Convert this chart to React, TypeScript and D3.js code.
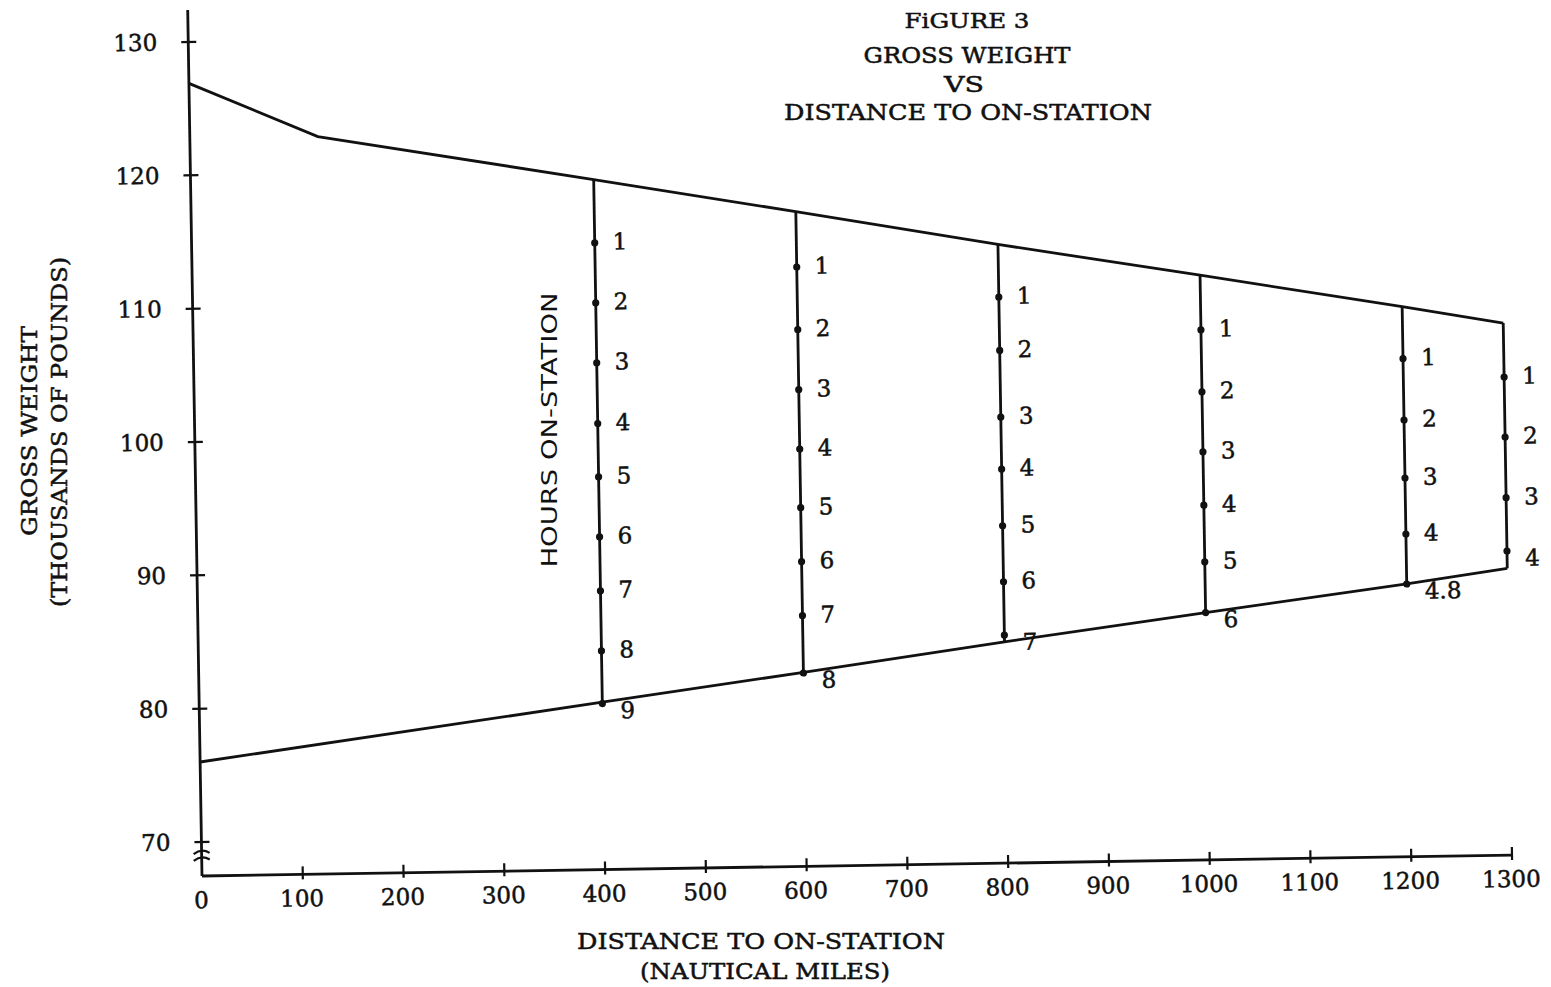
import React from 'react';
import * as d3 from 'd3';

// axis ticks
const distanceTicks = [0, 100, 200, 300, 400, 500, 600, 700, 800, 900, 1000, 1100, 1200, 1300];
const weightTicks = [70, 80, 90, 100, 110, 120, 130];

// upper envelope (take-off weight less fuel to reach station)
const upperDistance = [0, 127, 400, 600, 800, 1000, 1200, 1300];
const upperWeight = [126.9, 122.75, 119.2, 116.55, 113.85, 111.3, 108.7, 107.35];

// lower envelope (weight at end of station time)
const lowerDistance = [0, 400, 600, 800, 1000, 1200, 1300];
const lowerWeight = [76, 80, 82, 84.05, 86, 87.9, 88.95];

// hours on-station scales
const stationDistance = [400, 600, 800, 1000, 1200, 1300];
const hourLabels = [
  ['1', '2', '3', '4', '5', '6', '7', '8', '9'],
  ['1', '2', '3', '4', '5', '6', '7', '8'],
  ['1', '2', '3', '4', '5', '6', '7'],
  ['1', '2', '3', '4', '5', '6'],
  ['1', '2', '3', '4', '4.8'],
  ['1', '2', '3', '4'],
];
const hourWeights = [
  [114.45, 109.95, 105.45, 100.9, 96.9, 92.4, 88.35, 83.85, 79.9],
  [112.4, 107.7, 103.2, 98.75, 94.35, 90.3, 86.25, 81.95],
  [109.9, 105.9, 100.9, 97.0, 92.75, 88.55, 84.55],
  [107.2, 102.55, 98.05, 94.05, 89.8, 86.0],
  [104.8, 100.2, 95.85, 91.65, 87.9],
  [103.3, 98.8, 94.25, 90.25],
];

const serif = '"DejaVu Serif", serif';
const ink = '#111';

export default function App() {
  const x = d3.scaleLinear().domain([0, 1300]).range([0, 1310]);
  const y = d3.scaleLinear().domain([70, 130]).range([-34, -834]);

  const envelope = d3
    .line<[number, number]>()
    .x((d) => x(d[0]))
    .y((d) => y(d[1]));
  const upper = envelope(upperDistance.map((d, i) => [d, upperWeight[i]]));
  const lower = envelope(lowerDistance.map((d, i) => [d, lowerWeight[i]]));

  const topAt = (d: number) => upperWeight[upperDistance.indexOf(d)];
  const bottomAt = (d: number) => lowerWeight[lowerDistance.indexOf(d)];

  const textInk = { fill: ink, stroke: ink, strokeWidth: 0.5 };

  return (
    <svg
      width={1551}
      height={987}
      style={{ position: 'absolute', left: 0, top: 0, background: '#fff' }}
    >
      {/* titles */}
      <g fontFamily={serif} textAnchor="middle" {...textInk}>
        <text x={967} y={28} fontSize={20} textLength={125} lengthAdjust="spacingAndGlyphs">
          FiGURE 3
        </text>
        <text x={967} y={63} fontSize={22} textLength={207} lengthAdjust="spacingAndGlyphs">
          GROSS WEIGHT
        </text>
        <text x={964} y={92} fontSize={22} textLength={40} lengthAdjust="spacingAndGlyphs">
          VS
        </text>
        <text x={968} y={120} fontSize={22} textLength={368} lengthAdjust="spacingAndGlyphs">
          DISTANCE TO ON-STATION
        </text>

        <text x={761} y={949} fontSize={22} textLength={368} lengthAdjust="spacingAndGlyphs">
          DISTANCE TO ON-STATION
        </text>
        <text x={765} y={979} fontSize={22} textLength={250} lengthAdjust="spacingAndGlyphs">
          (NAUTICAL MILES)
        </text>

        <text
          transform="translate(37,431) rotate(-90)"
          fontSize={22}
          textLength={210}
          lengthAdjust="spacingAndGlyphs"
        >
          GROSS WEIGHT
        </text>
        <text
          transform="translate(67,432) rotate(-90)"
          fontSize={22}
          textLength={350}
          lengthAdjust="spacingAndGlyphs"
        >
          (THOUSANDS OF POUNDS)
        </text>
      </g>
      <text
        transform="translate(557,430) rotate(-90)"
        fontFamily='"DejaVu Sans", sans-serif'
        fontSize={22}
        textAnchor="middle"
        fill={ink}
        textLength={275}
        lengthAdjust="spacingAndGlyphs"
      >
        HOURS ON-STATION
      </text>

      {/* plot frame, skewed like the scanned page */}
      <g transform="matrix(1,-0.016,0.0165,1,202,876)" stroke={ink} fill="none">
        {/* y axis */}
        <line x1={0} x2={0} y1={0} y2={y(132.4)} strokeWidth={2.8} />
        {weightTicks.map((t) => (
          <g key={t}>
            <line x1={-7} x2={8} y1={y(t)} y2={y(t)} strokeWidth={2.2} />
            <text
              x={-31}
              y={y(t) + 8}
              fontFamily={serif}
              fontSize={23}
              textAnchor="end"
              {...textInk}
            >
              {t}
            </text>
          </g>
        ))}
        {/* axis break */}
        {[69.25, 68.75].map((b) => (
          <path
            key={b}
            d={`M-8,${y(b) + 2} Q0,${y(b) - 4} 8,${y(b) + 1}`}
            strokeWidth={2.2}
          />
        ))}

        {/* x axis */}
        <line x1={0} x2={x(1300)} y1={0} y2={0} strokeWidth={2.8} />
        {distanceTicks.map((t) => (
          <g key={t}>
            {t > 0 && <line x1={x(t)} x2={x(t)} y1={-8} y2={5} strokeWidth={2.2} />}
            <text
              x={x(t) - 1}
              y={32}
              fontFamily={serif}
              fontSize={23}
              textAnchor="middle"
              {...textInk}
            >
              {t}
            </text>
          </g>
        ))}

        {/* envelope */}
        <path d={upper ?? ''} strokeWidth={2.8} />
        <path d={lower ?? ''} strokeWidth={2.8} />

        {/* station lines with hour marks */}
        {stationDistance.map((s, si) => {
          const labels = hourLabels[si];
          return (
            <g key={s}>
              <line
                x1={x(s)}
                x2={x(s)}
                y1={y(topAt(s))}
                y2={y(bottomAt(s))}
                strokeWidth={2.8}
              />
              {hourWeights[si].map((w, hi) => (
                <g key={hi}>
                  <circle cx={x(s)} cy={y(w)} r={3.6} fill={ink} stroke="none" />
                  <text
                    x={x(s) + 18}
                    y={y(w) + (hi === labels.length - 1 ? 15 : 7)}
                    fontFamily={serif}
                    fontSize={23}
                    {...textInk}
                  >
                    {labels[hi]}
                  </text>
                </g>
              ))}
            </g>
          );
        })}
      </g>
    </svg>
  );
}
